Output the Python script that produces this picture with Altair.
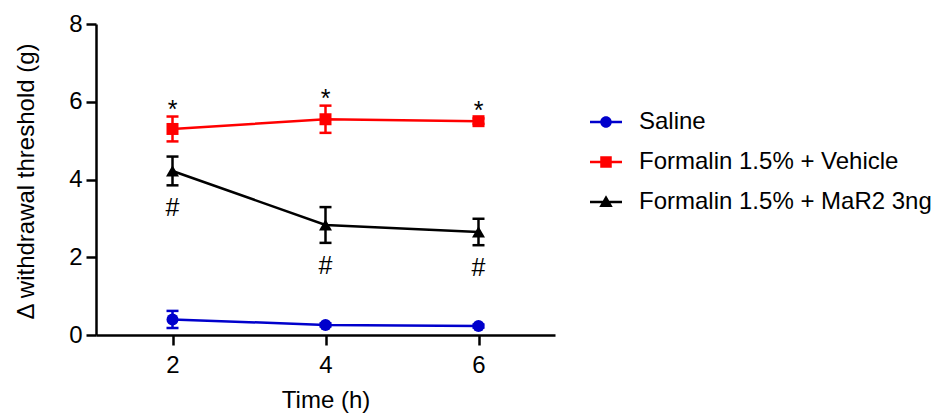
import altair as alt
import pandas as pd

# ---------------- data ----------------
times = [2, 4, 6]
series_names = ["Saline", "Formalin 1.5% + Vehicle", "Formalin 1.5% + MaR2 3ng"]
saline_mean = [0.40, 0.26, 0.23]
saline_sem = [0.22, 0.04, 0.04]
vehicle_mean = [5.30, 5.55, 5.50]
vehicle_sem = [0.32, 0.35, 0.07]
mar2_mean = [4.22, 2.83, 2.65]
mar2_sem = [0.37, 0.46, 0.34]
star_marks = ["*", "*", "*"]
hash_marks = ["#", "#", "#"]
x_ticks = [2, 4, 6]
y_ticks = [0, 2, 4, 6, 8]

# ---------------- styles ----------------
series_colors = ["#0000CC", "#FF0000", "#000000"]
point_shapes = ["circle", "square", "triangle-up"]
point_sizes = [144, 144, 169]
legend_shapes = [
    "M-1,-0.08H1V0.08H-1Z M-0.36,0A0.36,0.36,0,1,1,0.36,0A0.36,0.36,0,1,1,-0.36,0Z",
    "M-1,-0.08H1V0.08H-1Z M-0.36,-0.36H0.36V0.36H-0.36Z",
    "M-1,-0.08H1V0.08H-1Z M0,-0.42L0.42,0.32L-0.42,0.32Z",
]
FONT = "Liberation Sans"

all_means = [saline_mean, vehicle_mean, mar2_mean]
all_sems = [saline_sem, vehicle_sem, mar2_sem]

rows = []
for name, means, sems in zip(series_names, all_means, all_sems):
    for t, m, s in zip(times, means, sems):
        rows.append({"series": name, "time": t, "mean": m, "sem": s,
                     "lo": m - s, "hi": m + s})
df = pd.DataFrame(rows)

star_df = pd.DataFrame({"time": times, "label": star_marks,
                        "anchor": [m + s for m, s in zip(vehicle_mean, vehicle_sem)]})
hash_df = pd.DataFrame({"time": times, "label": hash_marks,
                        "anchor": [m - s for m, s in zip(mar2_mean, mar2_sem)]})

x_scale = alt.Scale(domain=[1, 7], nice=False, zero=False)
y_scale = alt.Scale(domain=[0, 8], nice=False)
x_axis = alt.Axis(values=x_ticks, title="Time (h)", format="d",
                  titleY=72, titleBaseline="alphabetic", labelPadding=8)
y_axis = alt.Axis(values=y_ticks, title="Δ withdrawal threshold (g)", format="d",
                  titleAngle=270, titleX=-63, titleY=157,
                  titleBaseline="alphabetic", titleAlign="center", labelPadding=4)

X = alt.X("time:Q", scale=x_scale, axis=x_axis)


def Y(field):
    return alt.Y(field, type="quantitative", scale=y_scale, axis=y_axis)


layers = []
for name, col, shp, sz in zip(series_names, series_colors, point_shapes, point_sizes):
    sb = alt.Chart(df).transform_filter(alt.datum.series == name)
    layers.append(sb.mark_line(strokeWidth=2.5, color=col).encode(x=X, y=Y("mean"), order="time:Q"))
    layers.append(sb.mark_rule(strokeWidth=2.5, color=col).encode(x=X, y=Y("lo"), y2="hi:Q"))
    layers.append(sb.mark_tick(orient="horizontal", size=12, thickness=2.5, opacity=1, color=col)
                  .encode(x=X, y=Y("lo")))
    layers.append(sb.mark_tick(orient="horizontal", size=12, thickness=2.5, opacity=1, color=col)
                  .encode(x=X, y=Y("hi")))

for name, col, shp, sz in zip(series_names, series_colors, point_shapes, point_sizes):
    sb = alt.Chart(df).transform_filter(alt.datum.series == name)
    layers.append(sb.mark_point(filled=True, opacity=1, shape=shp, size=sz, strokeWidth=0, color=col)
                  .encode(x=X, y=Y("mean")))

legend_props = dict(title=None, orient="none", legendX=494, legendY=82,
                    symbolSize=1024, symbolStrokeWidth=0, symbolOpacity=1,
                    labelFontSize=24, labelFont=FONT, labelColor="black",
                    labelOffset=17, rowPadding=12, padding=0, labelLimit=400)
legend_layer = alt.Chart(df).mark_point(filled=True, opacity=0).encode(
    x=X, y=Y("mean"),
    color=alt.Color("series:N", scale=alt.Scale(domain=series_names, range=series_colors),
                    legend=alt.Legend(**legend_props)),
    shape=alt.Shape("series:N", scale=alt.Scale(domain=series_names, range=legend_shapes),
                    legend=alt.Legend(**legend_props)))
layers.append(legend_layer)

stars = alt.Chart(star_df).mark_text(fontSize=25, font=FONT, color="black",
                                     baseline="alphabetic", dy=1).encode(
    x=X, y=Y("anchor"), text="label:N")
hashes = alt.Chart(hash_df).mark_text(fontSize=25, font=FONT, color="black",
                                      baseline="alphabetic", dy=31).encode(
    x=X, y=Y("anchor"), text="label:N")
layers += [stars, hashes]

chart = alt.layer(*layers).properties(
    width=459, height=311,
    padding={"left": 88, "top": 16, "right": 383, "bottom": 79},
    autosize=alt.AutoSizeParams(type="none"),
    background="white",
).configure_axis(
    domainColor="black", domainWidth=2.5, tickColor="black", tickWidth=2.5, tickSize=10,
    labelColor="black", titleColor="black", labelFont=FONT, titleFont=FONT,
    labelFontSize=24, titleFontSize=24, titleFontWeight="normal", grid=False,
).configure_view(strokeWidth=0)

chart.save("out.html", embed_options={"renderer": "svg", "actions": False})
